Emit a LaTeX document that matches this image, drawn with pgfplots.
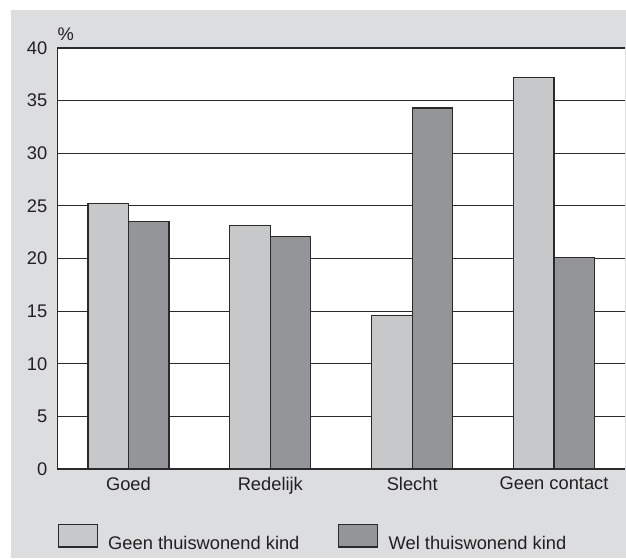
\documentclass[border=0pt]{standalone}
\usepackage{pgfplots}
\pgfplotsset{compat=1.18}
\usepackage{fontspec}
\setmainfont{Liberation Sans}
\definecolor{bg}{HTML}{DCDDDF}
\definecolor{lightbar}{HTML}{C7C8CA}
\definecolor{darkbar}{HTML}{939598}
\definecolor{txt}{HTML}{231F20}
\definecolor{ln}{HTML}{2A2A2A}
\begin{document}
\fontsize{18.3}{21}\selectfont
\begin{tikzpicture}[x=1pt,y=1pt]
\fill[white] (-57.5,-89) rectangle (568.5,469);
\fill[bg] (-46.5,-89) rectangle (568.5,459);
\begin{axis}[
  at={(0,0)}, anchor=south west,
  scale only axis, width=567.5pt, height=421pt,
  xmin=-0.5, xmax=3.5, ymin=0, ymax=40,
  axis background/.style={fill=white},
  axis x line=bottom, axis y line=left,
  axis line style={ln, line width=1.3pt, -},
  xtick={0,1,2,3},
  xticklabels={Goed,Redelijk,Slecht,Geen contact},
  ytick={0,5,...,40},
  /pgf/number format/assume math mode=true,
  major tick length=0pt,
  ymajorgrids, grid style={ln, line width=1.2pt},
  tick label style={font=\fontsize{18.3}{21}\selectfont, text=txt},
  yticklabel style={inner sep=0pt, anchor=east, xshift=-10pt},
  xticklabel style={inner sep=0pt, anchor=north, yshift=-8pt},
  ybar=0pt, bar width=40.5pt,
  clip=false,
  legend columns=2,
  legend style={at={(0,-0.1639)}, anchor=west, draw=none, fill=none,
    inner sep=0pt, font=\fontsize{18.3}{21}\selectfont, text=txt,
    nodes={inner sep=0pt},
    /tikz/every odd column/.append style={column sep=10.3pt},
    /tikz/every even column/.append style={column sep=38.7pt}},
  legend image code/.code={\draw[#1] (0pt,-2.6pt) rectangle (39pt,20pt);},
]
\addplot[fill=lightbar, draw=ln, line width=1.2pt] coordinates {(0,25.2) (1,23.1) (2,14.6) (3,37.2)};
\addlegendentry{Geen thuiswonend kind}
\addplot[fill=darkbar, draw=ln, line width=1.2pt] coordinates {(0,23.5) (1,22.1) (2,34.3) (3,20.1)};
\addlegendentry{Wel thuiswonend kind}
\node[anchor=base west, inner sep=0pt, text=txt] at (rel axis cs:0,1) [yshift=8pt] {\%};
\end{axis}
\end{tikzpicture}
\end{document}
